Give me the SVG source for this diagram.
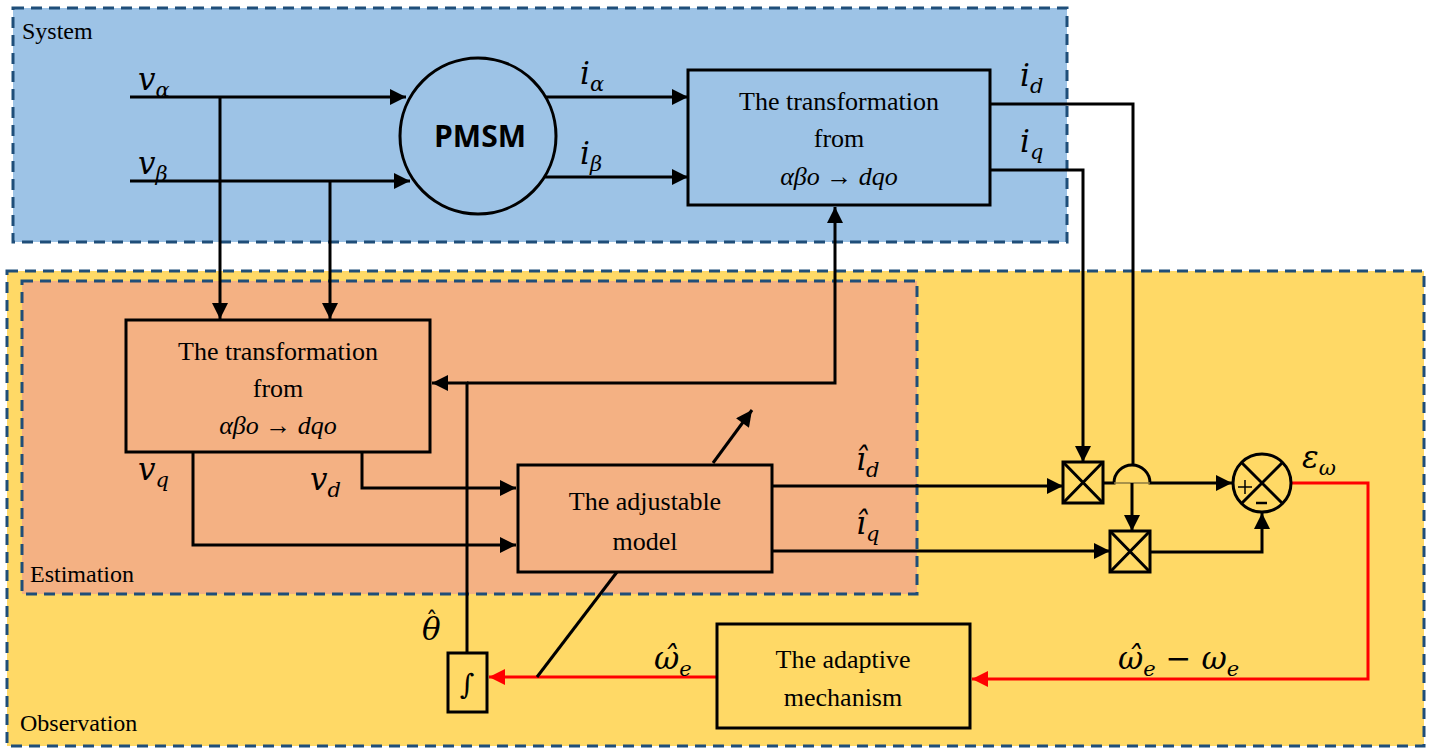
<svg xmlns="http://www.w3.org/2000/svg" width="1433" height="750" viewBox="0 0 1433 750">
<style>
.region{stroke:#1F4E79;stroke-width:3;stroke-dasharray:11 7}
.blk{stroke:#000;stroke-width:3}
.ln{fill:none;stroke:#000;stroke-width:3}
.red{fill:none;stroke:#FF0000;stroke-width:3}
.t{font-size:26px;fill:#000;text-anchor:middle}
.lab{font-size:24px;fill:#000}
.m{font-style:italic;font-size:31px;fill:#000}
.s{font-size:21px}
</style>
<defs>
<marker id="ah" viewBox="0 0 10 10" refX="10" refY="5" markerWidth="18" markerHeight="16" markerUnits="userSpaceOnUse" orient="auto"><path d="M0,0 L10,5 L0,10 z" fill="#000"/></marker>
<marker id="ahr" viewBox="0 0 10 10" refX="10" refY="5" markerWidth="18" markerHeight="16" markerUnits="userSpaceOnUse" orient="auto"><path d="M0,0 L10,5 L0,10 z" fill="#FF0000"/></marker>
</defs>
<rect width="1433" height="750" fill="#fff"/>
<g id="system">
<rect class="region" x="13" y="8" width="1054" height="234" fill="#9DC3E6"/>
<text class="lab" font-family="Liberation Serif, Times New Roman, serif" x="22" y="39">System</text>
</g>
<g id="observation">
<rect class="region" x="7" y="271" width="1417" height="475" fill="#FFD966"/>
<text class="lab" font-family="Liberation Serif, Times New Roman, serif" x="20" y="731">Observation</text>
</g>
<g id="estimation">
<rect class="region" x="22" y="281" width="895" height="313" fill="#F4B183"/>
<text class="lab" font-family="Liberation Serif, Times New Roman, serif" x="30" y="582" font-size="26">Estimation</text>
</g>
<g id="connectors">
<path class="ln" d="M130,97 H406" marker-end="url(#ah)"/>
<path class="ln" d="M130,181 H410" marker-end="url(#ah)"/>
<path class="ln" d="M220,97 V319" marker-end="url(#ah)"/>
<path class="ln" d="M330,181 V319" marker-end="url(#ah)"/>
<path class="ln" d="M545,97 H688" marker-end="url(#ah)"/>
<path class="ln" d="M545,177 H688" marker-end="url(#ah)"/>
<path class="ln" d="M990,104 H1133 V465"/>
<path class="ln" d="M990,170 H1083 V462" marker-end="url(#ah)"/>
<path class="ln" d="M1104,483 H1114 A18,18 0 0 1 1150,483 H1232" marker-end="url(#ah)"/>
<path d="M1114,483 H1150" fill="none" stroke="#8C7A40" stroke-width="1.5"/>
<path class="ln" d="M1132,483 V531" marker-end="url(#ah)"/>
<path class="ln" d="M772,486 H1063" marker-end="url(#ah)"/>
<path class="ln" d="M772,551 H1110" marker-end="url(#ah)"/>
<path class="ln" d="M1150,552 H1262 V513" marker-end="url(#ah)"/>
<path class="red" d="M1292,483 H1368 V679 H972" marker-end="url(#ahr)"/>
<path class="red" d="M717,677 H489" marker-end="url(#ahr)"/>
<path class="ln" d="M537,677 L617,572"/>
<path class="ln" d="M713,463 L752,410" marker-end="url(#ah)"/>
<path class="ln" d="M467,653 V383 H432" marker-end="url(#ah)"/>
<path class="ln" d="M467,383 H835 V207" marker-end="url(#ah)"/>
<path class="ln" d="M362,452 V488 H516" marker-end="url(#ah)"/>
<path class="ln" d="M193,452 V545 H516" marker-end="url(#ah)"/>
</g>
<g id="pmsm">
<circle class="blk" cx="478" cy="136" r="78" fill="#9DC3E6"/>
<text x="480" y="147" font-family="Open Sans, sans-serif" font-weight="bold" font-size="30" text-anchor="middle">PMSM</text>
</g>
<g id="transform-top" font-family="Liberation Serif, Times New Roman, serif">
<rect class="blk" x="688" y="70" width="302" height="135" fill="#9DC3E6"/>
<text class="t" x="839" y="110">The transformation</text>
<text class="t" x="839" y="147">from</text>
<text class="t" x="839" y="185" font-style="italic">αβo → dqo</text>
</g>
<g id="transform-est" font-family="Liberation Serif, Times New Roman, serif">
<rect class="blk" x="126" y="320" width="304" height="132" fill="#F4B183"/>
<text class="t" x="278" y="360">The transformation</text>
<text class="t" x="278" y="397">from</text>
<text class="t" x="278" y="434" font-style="italic">αβo → dqo</text>
</g>
<g id="adjustable-model" font-family="Liberation Serif, Times New Roman, serif">
<rect class="blk" x="518" y="465" width="254" height="107" fill="#F4B183"/>
<text class="t" x="645" y="510">The adjustable</text>
<text class="t" x="645" y="550">model</text>
</g>
<g id="mult-d">
<rect class="blk" x="1063" y="462" width="40" height="41" fill="#FFD966"/>
<path class="ln" d="M1063,462 L1103,503 M1103,462 L1063,503"/>
</g>
<g id="mult-q">
<rect class="blk" x="1110" y="531" width="40" height="41" fill="#FFD966"/>
<path class="ln" d="M1110,531 L1150,572 M1150,531 L1110,572"/>
</g>
<g id="sum">
<circle class="blk" cx="1262" cy="483" r="29" fill="#FFD966"/>
<path class="ln" d="M1241.5,462.5 L1282.5,503.5 M1282.5,462.5 L1241.5,503.5"/>
<path d="M1238,487 H1252 M1245,480 V494" stroke="#000" stroke-width="1.5"/>
<path d="M1256,503 H1267" stroke="#000" stroke-width="2.5"/>
</g>
<g id="adaptive" font-family="Liberation Serif, Times New Roman, serif">
<rect class="blk" x="717" y="624" width="253" height="104" fill="#FFD966"/>
<text class="t" x="843" y="668">The adaptive</text>
<text class="t" x="843" y="706">mechanism</text>
</g>
<g id="integrator">
<rect class="blk" x="448" y="653" width="39" height="59" fill="#FFD966"/>
<text x="467" y="694" font-family="DejaVu Serif, serif" font-size="28" text-anchor="middle">∫</text>
</g>
<g id="labels" font-family="DejaVu Serif, serif">
<text class="m" x="138" y="90">v<tspan class="s" dy="7">α</tspan></text>
<text class="m" x="138" y="174">v<tspan class="s" dy="7">β</tspan></text>
<text class="m" x="580" y="84">i<tspan class="s" dy="7">α</tspan></text>
<text class="m" x="580" y="164">i<tspan class="s" dy="7">β</tspan></text>
<text class="m" x="1020" y="86">i<tspan class="s" dy="7">d</tspan></text>
<text class="m" x="1020" y="152">i<tspan class="s" dy="7">q</tspan></text>
<text class="m" x="138" y="480">v<tspan class="s" dy="7">q</tspan></text>
<text class="m" x="310" y="490">v<tspan class="s" dy="7">d</tspan></text>
<text class="m" x="856" y="470">î<tspan class="s" dy="7">d</tspan></text>
<text class="m" x="856" y="534">î<tspan class="s" dy="7">q</tspan></text>
<text class="m" x="1302" y="468">ε<tspan class="s" dy="7">ω</tspan></text>
<text class="m" x="422" y="640">θ<tspan font-style="normal" font-size="24" dx="-15" dy="-11">ˆ</tspan></text>
<text class="m" x="654" y="669">ω̂<tspan class="s" dy="7">e</tspan></text>
<text class="m" x="1118" y="669">ω̂<tspan class="s" dy="7">e</tspan><tspan dy="-7"> − ω</tspan><tspan class="s" dy="7">e</tspan></text>
</g>
</svg>
